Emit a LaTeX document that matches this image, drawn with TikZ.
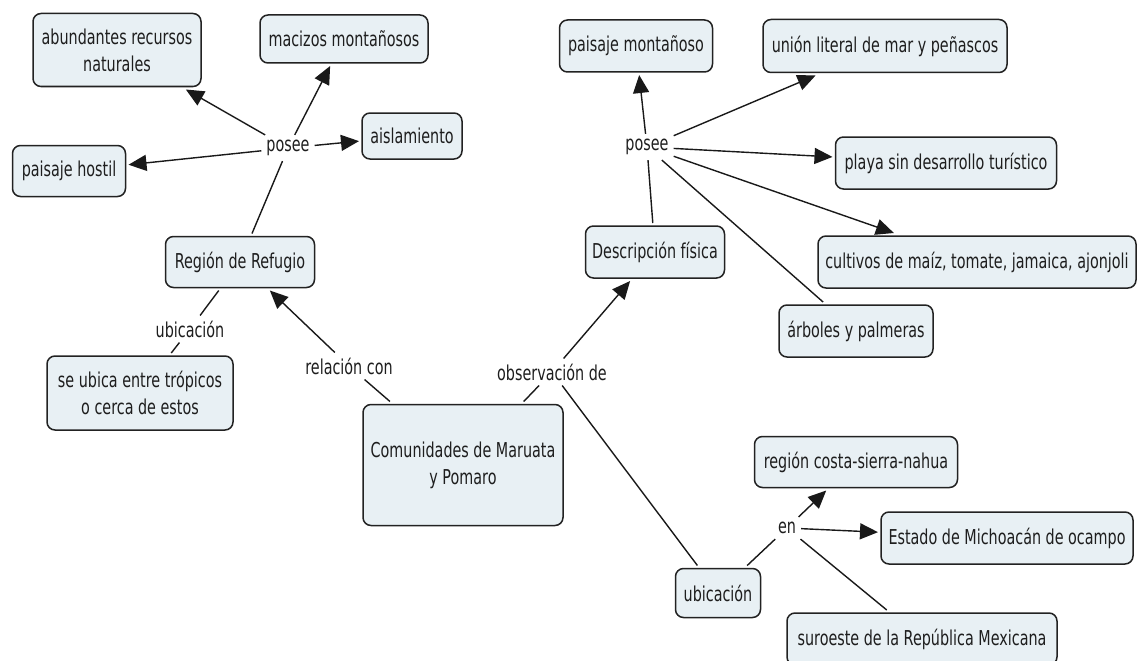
\documentclass[tikz,border=0pt]{standalone}
\usepackage{fontspec}
\setmainfont[FakeStretch=0.7]{DejaVu Sans}
\usetikzlibrary{arrows.meta}
\definecolor{boxfill}{HTML}{E8F0F4}
\definecolor{boxline}{HTML}{222222}
\definecolor{txt}{HTML}{1E1E1E}
\tikzset{
  concept/.style={draw=boxline, line width=1.5pt, fill=boxfill, rounded corners=8pt,
    inner sep=2pt, outer sep=3pt, align=center, text=txt,
    font=\fontsize{20.5}{27}\selectfont},
  linkph/.style={inner sep=5pt, text=txt, font=\fontsize{20.5}{27}\selectfont},
  conn/.style={draw=black!90, line width=1.4pt},
  arr/.style={conn, -{Triangle[length=18pt,width=16pt]}}
}
\begin{document}
\begin{tikzpicture}[x=1pt,y=-1pt]
\useasboundingbox (0,0) rectangle (1138,661);
\begin{scope}
\clip (0,0) rectangle (1138,661);
% concepts
\node[concept, minimum width=168pt, minimum height=73pt] (abund) at (117,50) {abundantes recursos\\naturales};
\node[concept, minimum width=168pt, minimum height=48pt] (maciz) at (344,39) {macizos montañosos};
\node[concept, minimum width=100pt, minimum height=46pt] (aisl) at (412,136) {aislamiento};
\node[concept, minimum width=113pt, minimum height=51pt] (hostil) at (69,171) {paisaje hostil};
\node[concept, minimum width=149pt, minimum height=51pt] (region) at (240,262) {Región de Refugio};
\node[concept, minimum width=186pt, minimum height=74pt] (seubica) at (140,393) {se ubica entre trópicos\\o cerca de estos};
\node[concept, minimum width=200pt, minimum height=121pt] (comun) at (463,465) {Comunidades de Maruata\\y Pomaro};
\node[concept, minimum width=139pt, minimum height=52pt] (desc) at (655,252) {Descripción física};
\node[concept, minimum width=153pt, minimum height=52pt] (pmont) at (636,46) {paisaje montañoso};
\node[concept, minimum width=244pt, minimum height=53pt] (union) at (885,46) {unión literal de mar y peñascos};
\node[concept, minimum width=221pt, minimum height=52pt] (playa) at (946,163) {playa sin desarrollo turístico};
\node[concept, minimum width=318pt, minimum height=52pt] (cultiv) at (977,262) {cultivos de maíz, tomate, jamaica, ajonjoli};
\node[concept, minimum width=154pt, minimum height=52pt] (arbol) at (856,331) {árboles y palmeras};
\node[concept, minimum width=203pt, minimum height=51pt] (rcsn) at (856,462) {región costa-sierra-nahua};
\node[concept, minimum width=252pt, minimum height=52pt] (estado) at (1007,538) {Estado de Michoacán de ocampo};
\node[concept, minimum width=85pt, minimum height=49pt] (ubic) at (718,593) {ubicación};
\node[concept, minimum width=270pt, minimum height=52pt] (suro) at (922,639) {suroeste de la República Mexicana};
% linking phrases
\node[linkph] (posee1) at (288,148) {posee};
\node[linkph] (posee2) at (647,147) {posee};
\node[linkph] (lubic) at (190,329) {ubicación};
\node[linkph] (relac) at (349,366) {relación con};
\node[linkph] (obs) at (552,372) {observación de};
\node[linkph] (en) at (787,528) {en};
% connectors
\draw[conn] (region) -- (posee1);
\draw[arr] (posee1) -- (abund);
\draw[arr] (posee1) -- (maciz);
\draw[arr] (posee1) -- (aisl);
\draw[arr] (posee1) -- (hostil);
\draw[conn] (region) -- (lubic);
\draw[conn] (lubic) -- (seubica);
\draw[conn] (comun) -- (relac);
\draw[arr] (relac) -- (region);
\draw[conn] (comun) -- (obs);
\draw[arr] (obs) -- (desc);
\draw[conn] (obs) -- (ubic);
\draw[conn] (desc) -- (posee2);
\draw[arr] (posee2) -- (pmont);
\draw[arr] (posee2) -- (union);
\draw[arr] (posee2) -- (playa);
\draw[arr] (posee2) -- (cultiv);
\draw[conn] (posee2) -- (arbol);
\draw[conn] (ubic) -- (en);
\draw[arr] (en) -- (rcsn);
\draw[arr] (en) -- (estado);
\draw[conn] (en) -- (suro);
\end{scope}
\end{tikzpicture}
\end{document}
